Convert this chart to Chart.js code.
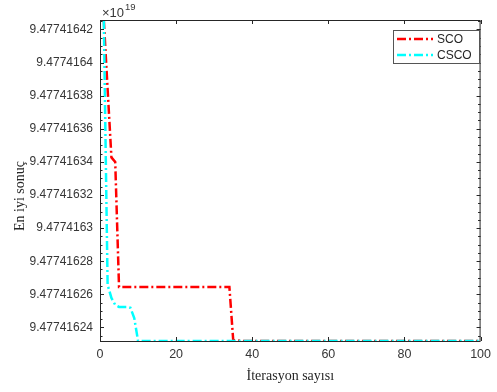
<!DOCTYPE html>
<html>
<head>
<meta charset="utf-8">
<script src="https://cdn.jsdelivr.net/npm/chart.js@4.4.0/dist/chart.umd.min.js"></script>
<style>
html, body { margin: 0; padding: 0; background: #fff; }
</style>
</head>
<body>
<canvas id="lineChart" width="497" height="392"></canvas>
<script>
// values are in units of 1e19
const seriesNames = ['SCO', 'CSCO'];
const scoIterations = [1, 2, 3, 4, 5, 34, 35, 36, 37, 100];
const scoValues = [9.4774164257, 9.4774163840, 9.4774163427, 9.4774163400, 9.4774162644,
                   9.4774162644, 9.4774162324, 9.4774162322, 9.4774162318, 9.4774162318];
const cscoIterations = [1, 2, 3, 4, 5, 7, 8, 9, 10, 100];
const cscoValues = [9.4774164257, 9.4774162657, 9.4774162578, 9.4774162536, 9.4774162524,
                    9.4774162524, 9.4774162518, 9.4774162457, 9.4774162318, 9.4774162318];
const xTickValues = [0, 20, 40, 60, 80, 100];
const yTickValues = [9.47741624, 9.47741626, 9.47741628, 9.4774163, 9.47741632,
                     9.47741634, 9.47741636, 9.47741638, 9.4774164, 9.47741642];
const yTickLabels = ['9.47741624', '9.47741626', '9.47741628', '9.4774163', '9.47741632',
                     '9.47741634', '9.47741636', '9.47741638', '9.4774164', '9.47741642'];
const yMin = 9.4774162318;
const yMax = 9.4774164257;

const axisColor = '#262626';
const labelColor = '#363636';
const dashStyle = [9, 3, 2, 3];
const seriesColors = ['#ff0000', '#00ffff'];

// box, inside ticks, exponent, legend and y title (MATLAB look)
const matlabAxes = {
    id: 'matlabAxes',
    afterDatasetsDraw(chart) {
        const ctx = chart.ctx;
        const a = chart.chartArea;
        const x = chart.scales.x;
        const y = chart.scales.y;
        ctx.save();
        ctx.strokeStyle = axisColor;
        ctx.lineWidth = 1;
        ctx.strokeRect(a.left + 0.5, a.top + 0.5, a.right - a.left - 1, a.bottom - a.top);

        ctx.beginPath();
        xTickValues.forEach(v => {
            const px = Math.round(x.getPixelForValue(v)) + 0.5;
            ctx.moveTo(px, a.bottom); ctx.lineTo(px, a.bottom - 4);
            ctx.moveTo(px, a.top); ctx.lineTo(px, a.top + 4);
        });
        const step = yTickValues[1] - yTickValues[0];
        const minors = [];
        for (let i = -1; i < yTickValues.length; i++) {
            for (let k = 1; k < 4; k++) {
                const v = yTickValues[0] + (i + k / 4) * step;
                if (v > yMin && v < yMax) minors.push(v);
            }
        }
        yTickValues.forEach(v => {
            const py = Math.round(y.getPixelForValue(v)) + 0.5;
            ctx.moveTo(a.left, py); ctx.lineTo(a.left + 4, py);
            ctx.moveTo(a.right, py); ctx.lineTo(a.right - 4, py);
        });
        minors.forEach(v => {
            const py = Math.round(y.getPixelForValue(v)) + 0.5;
            ctx.moveTo(a.left, py); ctx.lineTo(a.left + 2.5, py);
            ctx.moveTo(a.right, py); ctx.lineTo(a.right - 2.5, py);
        });
        ctx.stroke();

        // exponent
        ctx.fillStyle = labelColor;
        ctx.textBaseline = 'alphabetic';
        ctx.textAlign = 'left';
        ctx.font = '13px "Liberation Sans", Arial, sans-serif';
        ctx.fillText('\u00d710', a.left + 2, a.top - 3);
        const w = ctx.measureText('\u00d710').width;
        ctx.font = '9.5px "Liberation Sans", Arial, sans-serif';
        ctx.fillText('19', a.left + 3 + w, a.top - 10);

        // y title
        ctx.save();
        ctx.translate(20, 196);
        ctx.rotate(-Math.PI / 2);
        ctx.textAlign = 'center';
        ctx.textBaseline = 'middle';
        ctx.fillStyle = axisColor;
        ctx.font = '14px "Liberation Serif", "Times New Roman", serif';
        ctx.fillText('En iyi sonu\u00e7', 0, 0);
        ctx.restore();

        // legend
        const lx = 393.5, ly = 30.5, lw = 86, lh = 33;
        ctx.fillStyle = '#fff';
        ctx.fillRect(lx, ly, lw, lh);
        ctx.strokeStyle = '#555';
        ctx.lineWidth = 1;
        ctx.strokeRect(lx, ly, lw, lh);
        ctx.font = '12px "Liberation Sans", Arial, sans-serif';
        ctx.textBaseline = 'middle';
        ctx.textAlign = 'left';
        seriesNames.forEach((name, i) => {
            const yy = 39 + i * 16;
            ctx.save();
            ctx.strokeStyle = seriesColors[i];
            ctx.lineWidth = 2.5;
            ctx.setLineDash(dashStyle);
            ctx.beginPath();
            ctx.moveTo(397, yy); ctx.lineTo(433, yy);
            ctx.stroke();
            ctx.restore();
            ctx.fillStyle = axisColor;
            ctx.fillText(name, 437, yy + 0.5);
        });
        ctx.restore();
    }
};

const ctx = document.getElementById('lineChart').getContext('2d');
const lineChart = new Chart(ctx, {
    type: 'line',
    data: {
        datasets: [{
            label: seriesNames[0],
            data: scoIterations.map((it, i) => ({ x: it, y: scoValues[i] })),
            borderColor: seriesColors[0],
            borderWidth: 2.5,
            borderDash: dashStyle,
            pointRadius: 0,
            fill: false,
            tension: 0,
            order: 1
        }, {
            label: seriesNames[1],
            data: cscoIterations.map((it, i) => ({ x: it, y: cscoValues[i] })),
            borderColor: seriesColors[1],
            borderWidth: 2.5,
            borderDash: dashStyle,
            pointRadius: 0,
            fill: false,
            tension: 0,
            order: 0
        }]
    },
    options: {
        responsive: false,
        animation: false,
        layout: {
            padding: { left: 0, top: 20, right: 13, bottom: 0 }
        },
        scales: {
            x: {
                type: 'linear',
                min: 0,
                max: 100,
                grid: { display: false, drawTicks: false },
                border: { display: false },
                afterFit: function(scale) { scale.height = 51; },
                afterBuildTicks: function(scale) {
                    scale.ticks = xTickValues.map(v => ({ value: v }));
                },
                ticks: {
                    autoSkip: false,
                    maxRotation: 0,
                    padding: 6,
                    color: labelColor,
                    font: { size: 12.5, family: "'Liberation Sans', Arial, sans-serif" },
                    callback: function(value) { return String(value); }
                },
                title: {
                    display: true,
                    text: '\u0130terasyon say\u0131s\u0131',
                    color: axisColor,
                    padding: { top: 0, bottom: 7 },
                    font: { size: 14, family: "'Liberation Serif', 'Times New Roman', serif" }
                }
            },
            y: {
                type: 'linear',
                min: yMin,
                max: yMax,
                grid: { display: false, drawTicks: false },
                border: { display: false },
                afterFit: function(scale) { scale.width = 100; },
                afterBuildTicks: function(scale) {
                    scale.ticks = yTickValues.map(v => ({ value: v }));
                },
                ticks: {
                    autoSkip: false,
                    padding: 7,
                    color: labelColor,
                    font: { size: 12, family: "'Liberation Sans', Arial, sans-serif" },
                    callback: function(value, index) { return yTickLabels[index]; }
                }
            }
        },
        plugins: {
            legend: { display: false },
            tooltip: { enabled: false }
        }
    },
    plugins: [matlabAxes]
});
</script>
</body>
</html>
